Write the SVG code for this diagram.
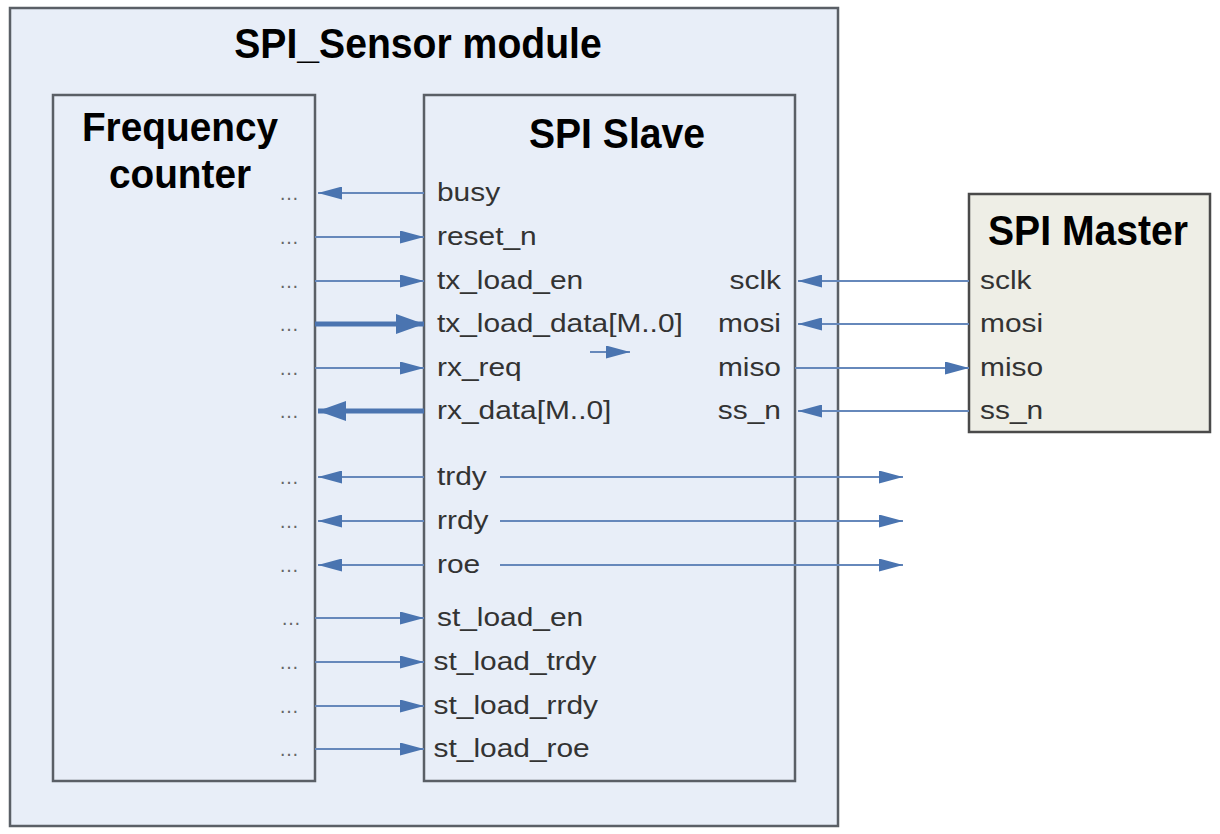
<svg xmlns="http://www.w3.org/2000/svg" width="1220" height="834" viewBox="0 0 1220 834">
<style>
.box{fill:#e8eef8;stroke:#5a5f66;stroke-width:2.5}
.master{fill:#eeeee6;stroke:#4a4a4a;stroke-width:2.5}
.title{font-family:"Liberation Sans",Arial,sans-serif;font-weight:bold;font-size:43px;fill:#000}
.sig{font-family:"Liberation Sans",Arial,sans-serif;font-size:26px;fill:#333}
.dots{font-family:"Liberation Sans",Arial,sans-serif;font-size:20px;fill:#666}
.w{stroke:#6688bb;stroke-width:2.2;fill:none}
.t{stroke:#4b74b0;stroke-width:5;fill:none}
</style>
<defs>
<marker id="ahm" viewBox="0 0 24 13" refX="24" refY="6.5" markerWidth="24" markerHeight="13" markerUnits="userSpaceOnUse" orient="auto"><path d="M0,0 L24,6.5 L0,13 z" fill="#4a74b0"/></marker>
<marker id="ahb" viewBox="0 0 28 20" refX="28" refY="10" markerWidth="28" markerHeight="20" markerUnits="userSpaceOnUse" orient="auto"><path d="M0,0 L28,10 L0,20 z" fill="#4a74b0"/></marker>
</defs>
<g id="module">
<rect class="box" x="10" y="8" width="828" height="818"/>
<text class="title" transform="translate(418,58) scale(0.91,1)" text-anchor="middle">SPI_Sensor module</text>
</g>
<g id="freq">
<rect class="box" x="53" y="95" width="262" height="686"/>
<text class="title" style="font-size:40px" transform="translate(180,141) scale(0.97,1)" text-anchor="middle">Frequency</text>
<text class="title" style="font-size:40px" transform="translate(180,188) scale(0.97,1)" text-anchor="middle">counter</text>
<g class="dots" text-anchor="middle">
<text x="289" y="200">…</text>
<text x="289" y="244">…</text>
<text x="289" y="288">…</text>
<text x="289" y="331">…</text>
<text x="289" y="375">…</text>
<text x="289" y="418">…</text>
<text x="289" y="484">…</text>
<text x="289" y="528">…</text>
<text x="289" y="572">…</text>
<text x="291" y="625">…</text>
<text x="289" y="669">…</text>
<text x="289" y="713">…</text>
<text x="289" y="756">…</text>
</g>
</g>
<g id="slave">
<rect class="box" x="424" y="95" width="371" height="686"/>
<text class="title" transform="translate(617,148) scale(0.91,1)" text-anchor="middle">SPI Slave</text>
<g class="sig" transform="translate(437,0) scale(1.15,1)">
<text x="0" y="201">busy</text>
<text x="0" y="245">reset_n</text>
<text x="0" y="289">tx_load_en</text>
<text x="0" y="332">tx_load_data[M..0]</text>
<text x="0" y="376">rx_req</text>
<text x="0" y="419">rx_data[M..0]</text>
<text x="0" y="485">trdy</text>
<text x="0" y="529">rrdy</text>
<text x="0" y="573">roe</text>
<text x="0" y="626">st_load_en</text>
<text x="-3" y="670">st_load_trdy</text>
<text x="-3" y="714">st_load_rrdy</text>
<text x="-3" y="757">st_load_roe</text>
</g>
<g class="sig" transform="translate(781,0) scale(1.15,1)" text-anchor="end">
<text x="0" y="289">sclk</text>
<text x="0" y="332">mosi</text>
<text x="0" y="376">miso</text>
<text x="0" y="419">ss_n</text>
</g>
</g>
<g id="master">
<rect class="master" x="969" y="194" width="241" height="238"/>
<text class="title" transform="translate(1088,245) scale(0.91,1)" text-anchor="middle">SPI Master</text>
<g class="sig" transform="translate(980,0) scale(1.15,1)">
<text x="0" y="289">sclk</text>
<text x="0" y="332">mosi</text>
<text x="0" y="376">miso</text>
<text x="0" y="419">ss_n</text>
</g>
</g>
<g id="connectors">
<line class="w" x1="424" y1="193" x2="318" y2="193" marker-end="url(#ahm)"/>
<line class="w" x1="315" y1="237" x2="424" y2="237" marker-end="url(#ahm)"/>
<line class="w" x1="315" y1="281" x2="424" y2="281" marker-end="url(#ahm)"/>
<line class="t" x1="315" y1="324" x2="424" y2="324" marker-end="url(#ahb)"/>
<line class="w" x1="590" y1="352" x2="630" y2="352" marker-end="url(#ahm)"/>
<line class="w" x1="315" y1="368" x2="424" y2="368" marker-end="url(#ahm)"/>
<line class="t" x1="424" y1="411" x2="318" y2="411" marker-end="url(#ahb)"/>
<line class="w" x1="424" y1="477" x2="318" y2="477" marker-end="url(#ahm)"/>
<line class="w" x1="424" y1="521" x2="318" y2="521" marker-end="url(#ahm)"/>
<line class="w" x1="424" y1="565" x2="318" y2="565" marker-end="url(#ahm)"/>
<line class="w" x1="500" y1="477" x2="903" y2="477" marker-end="url(#ahm)"/>
<line class="w" x1="500" y1="521" x2="903" y2="521" marker-end="url(#ahm)"/>
<line class="w" x1="500" y1="565" x2="903" y2="565" marker-end="url(#ahm)"/>
<line class="w" x1="315" y1="618" x2="424" y2="618" marker-end="url(#ahm)"/>
<line class="w" x1="315" y1="662" x2="424" y2="662" marker-end="url(#ahm)"/>
<line class="w" x1="315" y1="706" x2="424" y2="706" marker-end="url(#ahm)"/>
<line class="w" x1="315" y1="749" x2="424" y2="749" marker-end="url(#ahm)"/>
<line class="w" x1="969" y1="281" x2="798" y2="281" marker-end="url(#ahm)"/>
<line class="w" x1="969" y1="324" x2="798" y2="324" marker-end="url(#ahm)"/>
<line class="w" x1="795" y1="368" x2="969" y2="368" marker-end="url(#ahm)"/>
<line class="w" x1="969" y1="411" x2="798" y2="411" marker-end="url(#ahm)"/>
</g>
</svg>
